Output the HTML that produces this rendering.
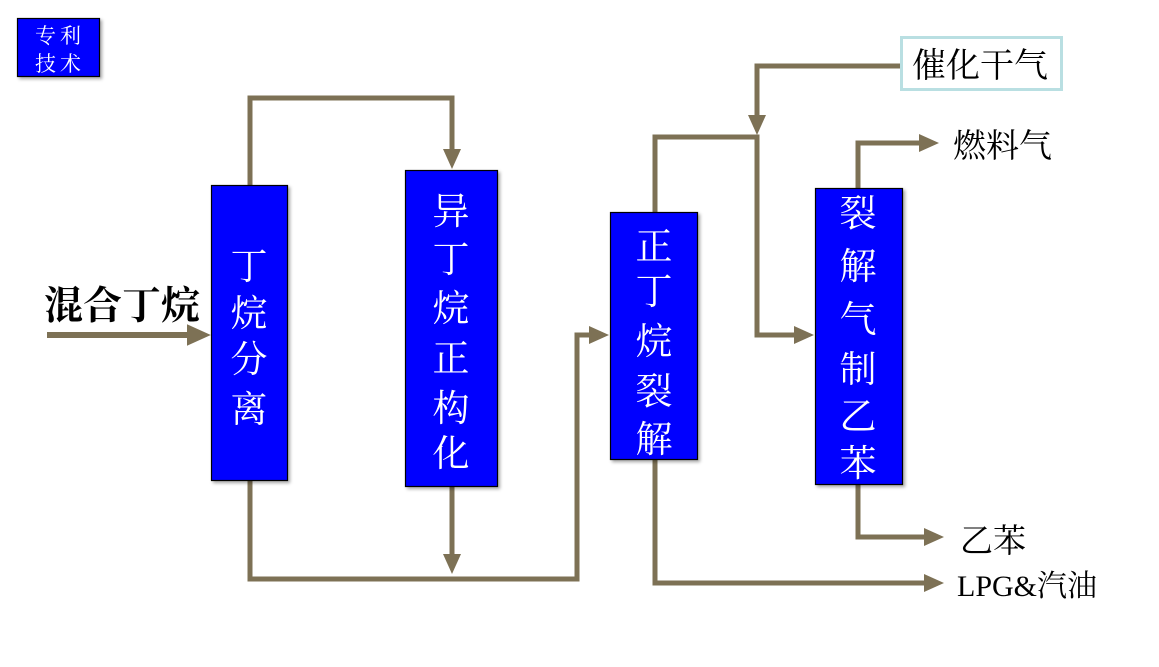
<!DOCTYPE html>
<html><head><meta charset="utf-8"><style>
html,body{margin:0;padding:0;background:#fff;}
svg{display:block;}
.bt{fill:#fff;font-family:"Liberation Serif","Noto Serif CJK SC",serif;font-size:37px;text-anchor:middle;}
.lb{fill:#000;font-family:"Liberation Serif","Noto Serif CJK SC",serif;font-size:33px;}
</style></head><body>
<svg width="1159" height="667" viewBox="0 0 1159 667">
<defs>
<marker id="a" markerWidth="4" markerHeight="4" refX="2.2" refY="2" orient="auto" markerUnits="strokeWidth">
<path d="M0,0.2 L4,2 L0,3.8 z" fill="#7d7155"/></marker>
<filter id="sh"><feDropShadow dx="2" dy="2" stdDeviation="1.5" flood-opacity="0.35"/></filter>
</defs>
<g fill="none" stroke="#7d7155" stroke-width="5" stroke-linejoin="miter">
<line x1="47" y1="335" x2="200" y2="335" stroke-width="6" marker-end="url(#a)"/>
<polyline points="250,186 250,98 452,98 452,160" marker-end="url(#a)"/>
<polyline points="250,480 250,579 577,579 577,335 600,335" marker-end="url(#a)"/>
<line x1="452" y1="486" x2="452" y2="565" marker-end="url(#a)"/>
<polyline points="655,212 655,137 757,137 757,335 805,335" marker-end="url(#a)"/>
<polyline points="900,66 757,66 757,126" marker-end="url(#a)"/>
<polyline points="858,188 858,143 930,143" marker-end="url(#a)"/>
<polyline points="858,484 858,537 935,537" marker-end="url(#a)"/>
<polyline points="655,459 655,583 935,583" marker-end="url(#a)"/>
</g>
<g fill="#0000ff" stroke="#000" stroke-width="1.2" filter="url(#sh)">
<rect x="17.5" y="18.5" width="82" height="58"/>
<rect x="211.5" y="185.5" width="76" height="295"/>
<rect x="405.5" y="170.5" width="92" height="316"/>
<rect x="610.5" y="212.5" width="87" height="247"/>
<rect x="815.5" y="188.5" width="87" height="296"/>
</g>
<text class="bt" style="font-size:21px;letter-spacing:4px" x="60" y="43">专利</text>
<text class="bt" style="font-size:21px;letter-spacing:4px" x="60" y="71">技术</text>
<g class="bt">
<text x="249" y="279">丁</text><text x="249" y="326">烷</text><text x="249" y="372">分</text><text x="249" y="422">离</text>
<text x="451" y="224">异</text><text x="451" y="272">丁</text><text x="451" y="321">烷</text><text x="451" y="371">正</text><text x="451" y="421">构</text><text x="451" y="466">化</text>
<text x="654" y="259">正</text><text x="654" y="304">丁</text><text x="654" y="354">烷</text><text x="654" y="404">裂</text><text x="654" y="452">解</text>
<text x="858" y="226">裂</text><text x="858" y="279">解</text><text x="858" y="332">气</text><text x="858" y="382">制</text><text x="858" y="429">乙</text><text x="858" y="476">苯</text>
</g>
<rect x="901.5" y="37.5" width="160" height="52" fill="#fff" stroke="#b9dfe2" stroke-width="3"/>
<text class="lb" x="912" y="77" style="font-size:34px">催化干气</text>
<text class="lb" x="953" y="157">燃料气</text>
<text class="lb" x="960" y="552">乙苯</text>
<text class="lb" x="957" y="596" style="font-size:30px">LPG&amp;汽油</text>
<text class="lb" x="44" y="319" style="font-size:39px;font-weight:bold">混合丁烷</text>
</svg>
</body></html>
